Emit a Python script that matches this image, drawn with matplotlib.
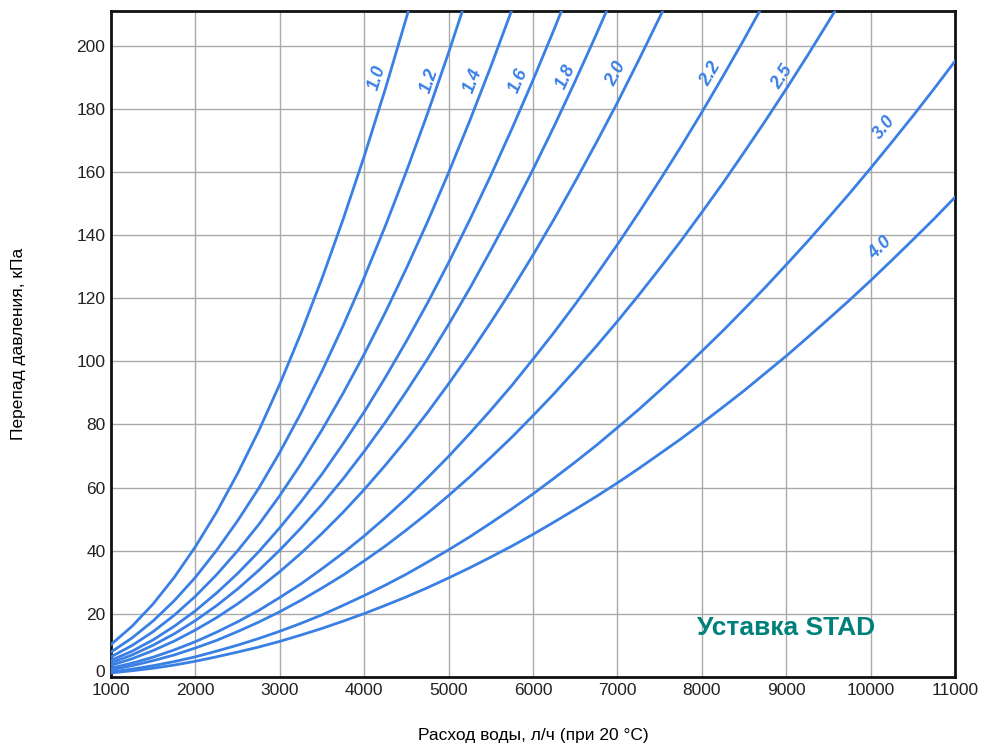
import numpy as np
import matplotlib
matplotlib.use("Agg")
import matplotlib.pyplot as plt
import matplotlib.transforms as mtransforms

plt.rcParams['font.family'] = ['Liberation Sans', 'DejaVu Sans']

# расход воды, л/ч (шаг 250)
flow = list(range(1000, 11001, 250))

# перепад давления, кПа (по положениям уставки)
dp_10 = [10.3, 16.1, 23.2, 31.6, 41.3, 52.2, 64.5, 78.0, 92.8, 108.9, 126.3, 145.0,
         165.0, 186.3, 208.9, 232.7]
dp_12 = [7.9, 12.4, 17.8, 24.2, 31.6, 40.1, 49.5, 59.8, 71.2, 83.6, 96.9, 111.3,
         126.6, 142.9, 160.2, 178.5, 197.8, 218.1]
dp_14 = [6.4, 10.0, 14.4, 19.6, 25.6, 32.4, 40.0, 48.3, 57.5, 67.5, 78.3, 89.9,
         102.3, 115.5, 129.5, 144.2, 159.8, 176.2, 193.4, 211.4, 230.1]
dp_16 = [5.3, 8.2, 11.8, 16.1, 21.0, 26.6, 32.8, 39.7, 47.3, 55.5, 64.3, 73.9,
         84.0, 94.9, 106.4, 118.5, 131.3, 144.8, 158.9, 173.7, 189.1, 205.2, 221.9]
dp_18 = [4.5, 7.0, 10.1, 13.7, 17.9, 22.6, 27.9, 33.8, 40.2, 47.2, 54.7, 62.8,
         71.5, 80.7, 90.5, 100.8, 111.7, 123.1, 135.2, 147.7, 160.8, 174.5, 188.8,
         203.6, 218.9]
dp_20 = [3.7, 5.8, 8.4, 11.4, 14.9, 18.8, 23.2, 28.1, 33.4, 39.2, 45.5, 52.2,
         59.4, 67.1, 75.2, 83.8, 92.9, 102.4, 112.4, 122.8, 133.7, 145.1, 157.0,
         169.3, 182.0, 195.3, 209.0, 223.1]
dp_22 = [2.8, 4.4, 6.3, 8.6, 11.2, 14.2, 17.5, 21.1, 25.2, 29.5, 34.3, 39.3,
         44.7, 50.5, 56.6, 63.1, 69.9, 77.1, 84.6, 92.4, 100.7, 109.2, 118.1,
         127.4, 137.0, 147.0, 157.3, 167.9, 178.9, 190.3, 202.0, 214.1]
dp_25 = [2.3, 3.6, 5.2, 7.0, 9.2, 11.6, 14.4, 17.4, 20.7, 24.3, 28.2, 32.3,
         36.8, 41.5, 46.6, 51.9, 57.5, 63.4, 69.6, 76.0, 82.8, 89.8, 97.2,
         104.8, 112.7, 120.9, 129.4, 138.1, 147.2, 156.5, 166.2, 176.1, 186.3,
         196.8, 207.6, 218.6]
dp_30 = [1.6, 2.5, 3.6, 4.9, 6.4, 8.2, 10.1, 12.2, 14.5, 17.0, 19.7, 22.7,
         25.8, 29.1, 32.6, 36.4, 40.3, 44.4, 48.8, 53.3, 58.0, 63.0, 68.1,
         73.4, 79.0, 84.7, 90.7, 96.8, 103.2, 109.7, 116.5, 123.4, 130.6,
         137.9, 145.5, 153.2, 161.2, 169.4, 177.7, 186.3, 195.1]
dp_40 = [1.3, 2.0, 2.8, 3.8, 5.0, 6.4, 7.9, 9.5, 11.3, 13.3, 15.4, 17.7,
         20.1, 22.7, 25.4, 28.3, 31.4, 34.6, 38.0, 41.5, 45.2, 49.1, 53.1,
         57.2, 61.5, 66.0, 70.7, 75.4, 80.4, 85.5, 90.7, 96.2, 101.7,
         107.5, 113.4, 119.4, 125.6, 132.0, 138.5, 145.1, 152.0]

settings = ['1.0', '1.2', '1.4', '1.6', '1.8', '2.0', '2.2', '2.5', '3.0', '4.0']
curves = [dp_10, dp_12, dp_14, dp_16, dp_18, dp_20, dp_22, dp_25, dp_30, dp_40]
# где стоят подписи
label_x = [4150, 4770, 5290, 5830, 6390, 6990, 8110, 8960, 10160, 10110]
label_y = [190, 189, 189, 189, 190, 191, 191, 190, 174, 136]

blue = '#3a80e4'

fig = plt.figure(figsize=(9.86, 7.51), dpi=100)
ax = fig.add_axes([0.1126, 0.0985, 0.8560, 0.8869])

for y in curves:
    ax.plot(flow[:len(y)], y, color=blue, lw=2.0, solid_joinstyle='round', zorder=3)

ax.set_xlim(1000, 11000)
ax.set_ylim(0, 211)
ax.set_xticks(range(1000, 11001, 1000))
ax.set_yticks(range(0, 201, 20))
ax.grid(True, color='#aaaaaa', lw=1.0)
ax.tick_params(length=0, labelsize=12.5, pad=4, colors='#222222')
for s in ax.spines.values():
    s.set_linewidth(2.0)
    s.set_color('#111111')

# "0" чуть выше, чтобы не наезжал на "1000"
lbl0 = ax.get_yticklabels()[0]
lbl0.set_transform(lbl0.get_transform() +
                   mtransforms.ScaledTranslation(0, 4 / 72, fig.dpi_scale_trans))

for lab, y, lx, ly in zip(settings, curves, label_x, label_y):
    xs = np.array(flow[:len(y)], dtype=float)
    ys = np.array(y, dtype=float)
    i = np.searchsorted(xs, lx)
    i = min(max(i, 1), len(xs) - 1)
    p1 = ax.transData.transform((xs[i - 1], ys[i - 1]))
    p2 = ax.transData.transform((xs[i], ys[i]))
    ang = np.degrees(np.arctan2(p2[1] - p1[1], p2[0] - p1[0]))
    ax.text(lx, ly, lab, rotation=ang, rotation_mode='anchor', ha='center', va='center',
            color=blue, fontsize=13, fontweight='bold', fontstyle='italic', zorder=4)

ax.text(9000, 15.5, 'Уставка STAD', color='#00807a', fontsize=19, fontweight='bold',
        ha='center', va='center', zorder=4)

ax.set_xlabel('Расход воды, л/ч (при 20 °C)', fontsize=12.5, labelpad=22)
ax.set_ylabel('Перепад давления, кПа', fontsize=12.5, labelpad=36)

fig.savefig('out.png', dpi=100)
